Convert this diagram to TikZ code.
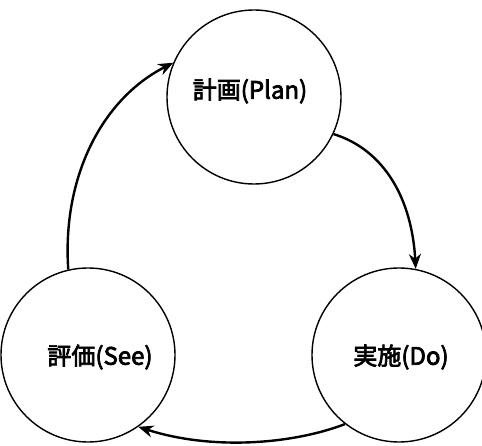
\documentclass[tikz,border=0pt]{standalone}
\usepackage{fontspec}
\newfontfamily\jp[FakeBold=3]{Noto Sans CJK JP}
\usetikzlibrary{arrows.meta}
\begin{document}
\begin{tikzpicture}[x=1pt,y=-1pt,
  stage/.style={circle,draw,line width=1.4pt,minimum size=174pt,inner sep=0pt,fill=white},
  lbl/.style={font=\jp\fontsize{24}{27}\selectfont,inner sep=0pt},
  flow/.style={line width=2.4pt,-{Stealth[length=15pt,width=12pt]}}]
\useasboundingbox (0,0) rectangle (482,446);
\node[stage] (plan) at (254,97) {};
\node[stage] (see) at (88,355) {};
\node[stage] (do) at (399,355) {};
\node[lbl] (tplan) at (250,91) {計画(Plan)};
\node[lbl] (tsee) at (100,357) {評価(See)};
\node[lbl] (tdo) at (401,357) {実施(Do)};
\coordinate (a1) at (plan.-25);
\coordinate (a2) at (do.79);
\draw[flow] (a1) .. controls (385,150) and (412,200) .. (a2);
\coordinate (b1) at (do.-128);
\coordinate (b2) at (see.-55);
\draw[flow] (b1) .. controls (290,445) and (210,450) .. (b2);
\coordinate (c1) at (see.103);
\coordinate (c2) at (plan.157);
\draw[flow] (c1) .. controls (62,180) and (100,100) .. (c2);
\end{tikzpicture}
\end{document}
